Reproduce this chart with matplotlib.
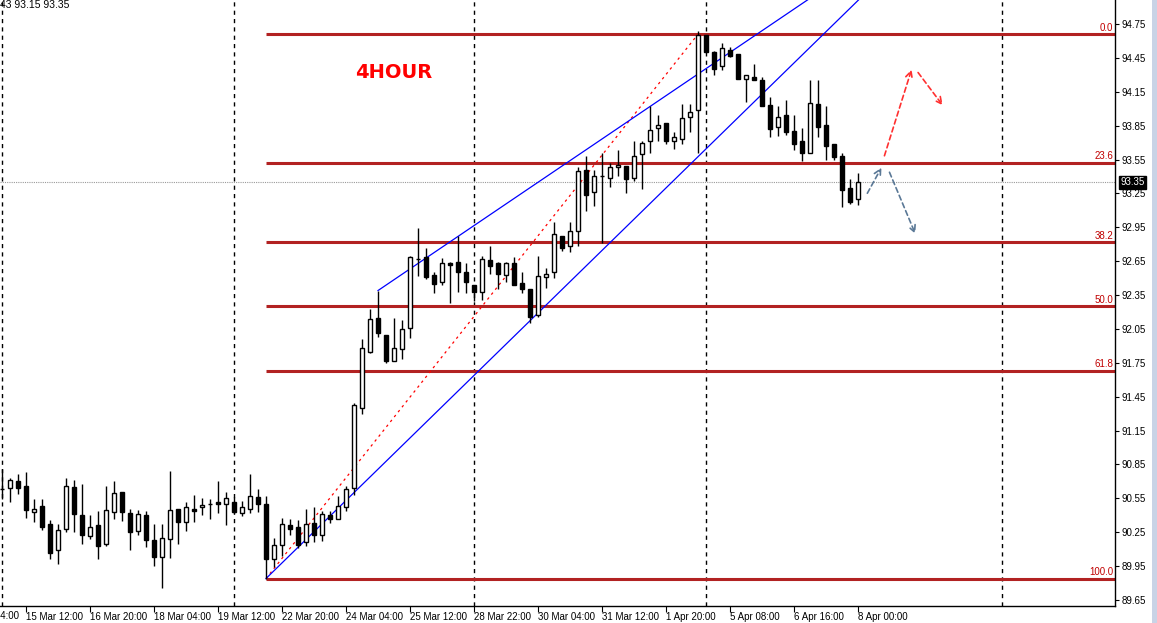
import numpy as np
import matplotlib
matplotlib.use("Agg")
import matplotlib.pyplot as plt
from matplotlib.patches import Rectangle

plt.rcParams['font.family'] = ['Liberation Sans', 'DejaVu Sans']

# ---- dane: swiece 4H (open / high / low / close) ----
opens = [90.63, 90.64, 90.70, 90.66, 90.43, 90.48, 90.32, 90.09, 90.28, 90.65,
         90.40, 90.22, 90.31, 90.15, 90.43, 90.61, 90.42, 90.26, 90.40, 90.18,
         90.03, 90.19, 90.46, 90.34, 90.46, 90.47, 90.50, 90.52, 90.50, 90.52,
         90.42, 90.46, 90.56, 90.50, 90.01, 90.14, 90.31, 90.30, 90.16, 90.33,
         90.23, 90.40, 90.37, 90.47, 90.64, 91.35, 91.85, 92.15, 92.00, 91.77,
         91.87, 92.06, 92.67, 92.69, 92.53, 92.47, 92.63, 92.64, 92.55, 92.44,
         92.38, 92.66, 92.63, 92.53, 92.63, 92.46, 92.40, 92.17, 92.51, 92.55,
         92.87, 92.78, 92.92, 93.46, 93.26, 93.40, 93.39, 93.48, 93.49, 93.39,
         93.60, 93.71, 93.83, 93.87, 93.71, 93.73, 93.93, 93.99, 94.65, 94.50,
         94.38, 94.52, 94.48, 94.26, 94.28, 94.25, 94.03, 93.84, 93.94, 93.80,
         93.71, 93.61, 94.04, 93.86, 93.69, 93.58, 93.30, 93.20]
highs = [90.81, 90.73, 90.77, 90.78, 90.54, 90.54, 90.36, 90.32, 90.73, 90.71,
         90.68, 90.40, 90.44, 90.66, 90.70, 90.61, 90.46, 90.45, 90.44, 90.32,
         90.32, 90.79, 90.46, 90.52, 90.58, 90.55, 90.54, 90.70, 90.61, 90.56,
         90.53, 90.77, 90.63, 90.57, 90.20, 90.38, 90.37, 90.36, 90.46, 90.47,
         90.44, 90.44, 90.57, 90.66, 91.39, 91.96, 92.23, 92.39, 92.00, 92.15,
         92.13, 92.70, 92.94, 92.77, 92.55, 92.68, 92.64, 92.87, 92.63, 92.44,
         92.70, 92.78, 92.64, 92.64, 92.69, 92.55, 92.40, 92.70, 92.59, 93.00,
         92.87, 93.00, 93.48, 93.58, 93.46, 93.61, 93.52, 93.63, 93.49, 93.71,
         93.71, 94.02, 93.94, 93.87, 93.79, 94.04, 94.04, 94.69, 94.65, 94.51,
         94.58, 94.55, 94.48, 94.30, 94.40, 94.28, 94.10, 94.02, 94.08, 93.94,
         93.83, 94.25, 94.25, 94.02, 93.69, 93.61, 93.38, 93.43]
lows = [90.54, 90.52, 90.59, 90.38, 90.34, 90.27, 90.01, 89.97, 90.25, 90.25,
        90.15, 90.19, 90.01, 90.13, 90.37, 90.35, 90.09, 90.23, 90.12, 89.95,
        89.76, 90.02, 90.15, 90.26, 90.34, 90.40, 90.37, 90.42, 90.31, 90.42,
        90.39, 90.42, 90.43, 89.84, 89.94, 90.04, 90.23, 90.11, 90.13, 90.16,
        90.17, 90.33, 90.37, 90.44, 90.58, 91.30, 91.84, 91.98, 91.75, 91.77,
        91.78, 91.97, 92.52, 92.49, 92.37, 92.44, 92.28, 92.38, 92.37, 92.30,
        92.31, 92.54, 92.40, 92.47, 92.44, 92.37, 92.10, 92.16, 92.41, 92.50,
        92.74, 92.73, 92.78, 93.09, 93.14, 92.81, 93.31, 93.40, 93.25, 93.36,
        93.29, 93.61, 93.71, 93.69, 93.64, 93.69, 93.79, 93.61, 94.50, 94.30,
        94.34, 94.46, 94.26, 94.06, 94.25, 94.02, 93.75, 93.76, 93.77, 93.63,
        93.54, 93.61, 93.75, 93.55, 93.55, 93.13, 93.16, 93.15]
closes = [90.63, 90.71, 90.64, 90.45, 90.46, 90.30, 90.07, 90.27, 90.66, 90.41,
          90.23, 90.30, 90.13, 90.45, 90.60, 90.43, 90.25, 90.41, 90.18, 90.03,
          90.20, 90.45, 90.34, 90.47, 90.44, 90.49, 90.50, 90.50, 90.55, 90.43,
          90.47, 90.57, 90.50, 90.01, 90.14, 90.32, 90.28, 90.14, 90.32, 90.23,
          90.41, 90.37, 90.48, 90.63, 91.38, 91.88, 92.14, 92.01, 91.77, 91.88,
          92.05, 92.69, 92.67, 92.51, 92.45, 92.63, 92.62, 92.55, 92.47, 92.38,
          92.67, 92.61, 92.54, 92.63, 92.44, 92.40, 92.16, 92.52, 92.54, 92.89,
          92.77, 92.92, 93.45, 93.24, 93.40, 93.40, 93.48, 93.50, 93.38, 93.58,
          93.70, 93.81, 93.86, 93.71, 93.75, 93.92, 93.97, 94.65, 94.50, 94.35,
          94.54, 94.47, 94.26, 94.30, 94.25, 94.02, 93.82, 93.93, 93.79, 93.69,
          93.61, 94.05, 93.84, 93.67, 93.57, 93.28, 93.17, 93.35]

# etykiety osi czasu (co 8 swiec)
tick_bars = [-5, 3, 11, 19, 27, 35, 43, 51, 59, 67, 75, 83, 91, 99, 107]
tick_labels = ["14 Mar 04:00", "15 Mar 12:00", "16 Mar 20:00", "18 Mar 04:00",
               "19 Mar 12:00", "22 Mar 20:00", "24 Mar 04:00", "25 Mar 12:00",
               "28 Mar 22:00", "30 Mar 04:00", "31 Mar 12:00", "1 Apr 20:00",
               "5 Apr 08:00", "6 Apr 16:00", "8 Apr 00:00"]
separator_bars = [0, 29, 59, 88, 125]

# fibo
fib_levels = [0.0, 23.6, 38.2, 50.0, 61.8, 100.0]
fib_high = 94.66
fib_low = 89.84
fib_start = 33
fib_end = 87

# kanal (linie trendu) - punkty zaczepienia
lower_line = [(33, 89.84), (105, 94.82)]
upper_line = [(47, 92.39), (100, 94.93)]

# strzalki scenariuszy
red_arrows = [((110.2, 93.56), (113.8, 94.37)), ((114.3, 94.34), (117.8, 94.01))]
blue_arrows = [((108.0, 93.23), (110.1, 93.50)), ((110.8, 93.46), (114.3, 92.87))]

last_price = 93.35
y_ticks = [89.65, 89.95, 90.25, 90.55, 90.85, 91.15, 91.45, 91.75, 92.05,
           92.35, 92.65, 92.95, 93.25, 93.55, 93.85, 94.15, 94.45, 94.75]

# ---- wykres ----
fig = plt.figure(figsize=(11.57, 6.23), dpi=100)
ax = fig.add_axes([0, 17 / 623, 1115 / 1157, 606 / 623])
ax.set_xlim(-0.25, 139.125)
ax.set_ylim(89.597, 94.9625)

# pionowe separatory
for b in separator_bars:
    ax.axvline(b, color='k', lw=1, linestyle=(0, (3, 3)), zorder=1)

# linia biezacej ceny
ax.axhline(last_price, color='#9a9a9a', lw=0.8, linestyle=(0, (1, 1)), zorder=1)

# fibo
for lvl in fib_levels:
    p = fib_high - lvl / 100 * (fib_high - fib_low)
    ax.hlines(p, fib_start, 139.125, color='#b22222', lw=2.2, zorder=2)
    ax.text(138.9, p + 0.012, '%.1f' % lvl, color='#c00000', fontsize=7,
            ha='right', va='bottom', zorder=6)
ax.plot([fib_start, fib_end], [fib_low, fib_high], color='red', lw=0.9,
        linestyle=(0, (2, 3)), zorder=3)

# kanal
for line in (lower_line, upper_line):
    (x0, y0), (x1, y1) = line
    slope = (y1 - y0) / (x1 - x0)
    xs = np.array([x0, 139.125])
    ax.plot(xs, y0 + slope * (xs - x0), color='#0000ff', lw=0.9, zorder=3)
# krotki pionowy odcinek od knota
ax.vlines(upper_line[0][0], highs[47], upper_line[0][1], color='#0000ff', lw=0.9, zorder=3)

# swiece
n = len(opens)
x = np.arange(n)
ax.vlines(x, lows, highs, color='k', lw=1, zorder=4)
for i in range(n):
    o, c = opens[i], closes[i]
    face = 'white' if c > o else 'black'
    ax.add_patch(Rectangle((i - 0.3, min(o, c)), 0.6, abs(c - o),
                           facecolor=face, edgecolor='k', lw=1, zorder=5))

# strzalki
for (a, b) in red_arrows:
    ax.annotate('', xy=b, xytext=a,
                arrowprops=dict(arrowstyle='->', color='#ff3030', lw=1.2,
                                linestyle=(0, (3, 2)), mutation_scale=12), zorder=6)
for (a, b) in blue_arrows:
    ax.annotate('', xy=b, xytext=a,
                arrowprops=dict(arrowstyle='->', color='#5a7896', lw=1.2,
                                linestyle=(0, (3, 2)), mutation_scale=12), zorder=6)

# napis
ax.text(48.9, 94.325, '4HOUR', color='#ff0000', fontsize=14, fontweight='bold',
        ha='center', va='center', family=['DejaVu Sans'])

# osie
for s in ('top', 'left'):
    ax.spines[s].set_visible(False)
ax.spines['right'].set_linewidth(1)
ax.spines['bottom'].set_linewidth(1)
ax.yaxis.tick_right()
ax.set_yticks(y_ticks)
ax.set_yticklabels(['%.2f' % v for v in y_ticks])
ax.tick_params(axis='y', direction='out', length=3, pad=2, labelsize=7)
vis = [(b, l) for b, l in zip(tick_bars, tick_labels) if b >= 0]
ax.set_xticks([b for b, l in vis])
ax.set_xticklabels([l for b, l in vis], ha='left')
ax.tick_params(axis='x', direction='out', length=4, pad=0.5, labelsize=7)
# obcieta pierwsza etykieta
ax.text(tick_bars[0], 89.597 - 0.04, tick_labels[0], fontsize=7, ha='left',
        va='top', clip_on=False)

# znacznik ceny
ax.annotate('%.2f' % last_price, xy=(1.0, last_price), xycoords=('axes fraction', 'data'),
            xytext=(4, 0), textcoords='offset points', fontsize=7, color='white',
            va='center', ha='left',
            bbox=dict(boxstyle='square,pad=0.15', fc='black', ec='black'))

fig.text(0.0, 1.0, '43 93.15 93.35', fontsize=7.5, ha='left', va='top')
# pasek po prawej
fig.patches.append(Rectangle((1152 / 1157, 0), 5 / 1157, 1, transform=fig.transFigure,
                             facecolor='#c9d3e6', edgecolor='none'))

fig.savefig('out.png', dpi=100)
